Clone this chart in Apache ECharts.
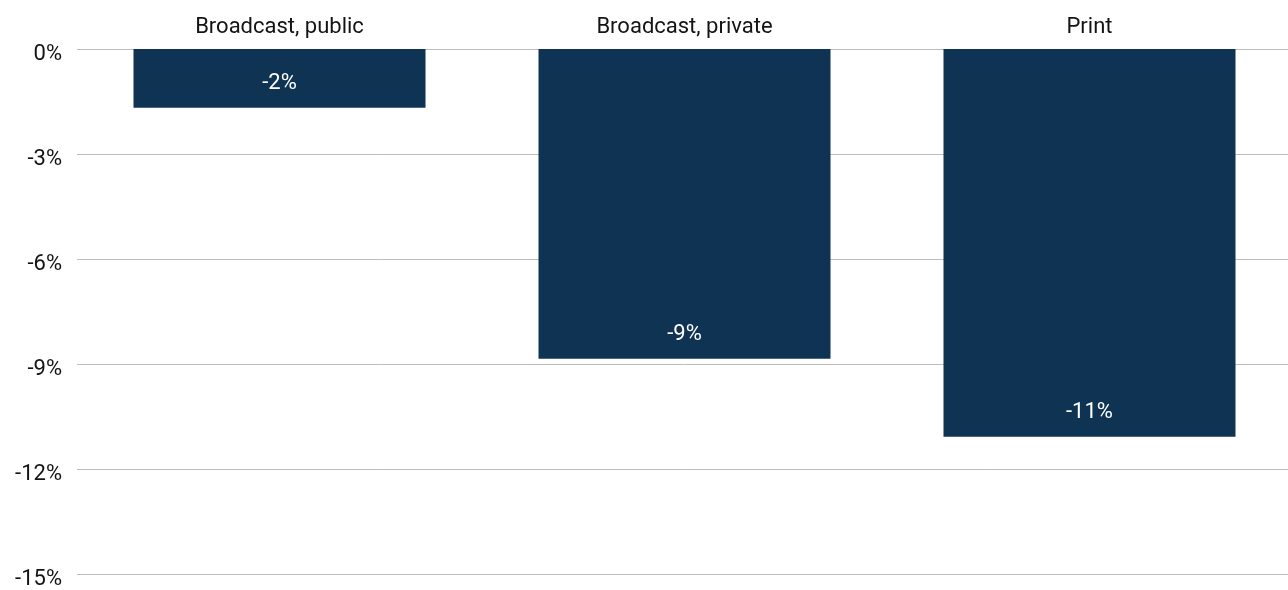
<!DOCTYPE html>
<html>
<head>
<meta charset="utf-8">
<script src="https://cdn.jsdelivr.net/npm/echarts@6/dist/echarts.min.js"></script>
<style>
  html, body { margin: 0; padding: 0; background: #ffffff; overflow: hidden; }
  /* the plot runs a few pixels past the right edge of the window */
  #chart { width: 1292px; height: 590px; }
</style>
</head>
<body>
<div id="chart"></div>
<script>
// Change by media type, in percent
const categories = ['Broadcast, public', 'Broadcast, private', 'Print'];
const changeValues = [-1.68, -8.85, -11.08];
const yTicks = [0, -3, -6, -9, -12, -15];

const FONT = 'Roboto, "DejaVu Sans Condensed", sans-serif';

const chart = echarts.init(document.getElementById('chart'), null, { renderer: 'canvas' });

chart.setOption({
  animation: false,
  backgroundColor: '#ffffff',
  grid: { left: 77, right: 0, top: 49, bottom: 16, containLabel: false },
  xAxis: {
    type: 'category',
    position: 'top',
    data: categories,
    axisLine: { show: false },
    axisTick: { show: false },
    axisLabel: {
      color: '#141414',
      fontFamily: FONT,
      fontSize: 22,
      margin: 11
    }
  },
  yAxis: {
    type: 'value',
    min: Math.min(...yTicks),
    max: Math.max(...yTicks),
    interval: 3,
    axisLine: { show: false },
    axisTick: { show: false },
    splitLine: { lineStyle: { color: '#bdbdbd', width: 1 } },
    axisLabel: {
      color: '#141414',
      fontFamily: FONT,
      fontSize: 22,
      margin: 15,
      // tick labels sit a little below their grid lines
      verticalAlign: 'top',
      lineHeight: 10,
      formatter: v => v + '%'
    }
  },
  series: [{
    type: 'bar',
    data: changeValues,
    barWidth: 292,
    itemStyle: { color: '#0f3352' },
    label: {
      show: true,
      position: 'insideBottom',
      distance: 13,
      color: '#ffffff',
      fontFamily: FONT,
      fontSize: 22,
      formatter: p => Math.round(p.value) + '%'
    }
  }]
});
</script>
</body>
</html>
